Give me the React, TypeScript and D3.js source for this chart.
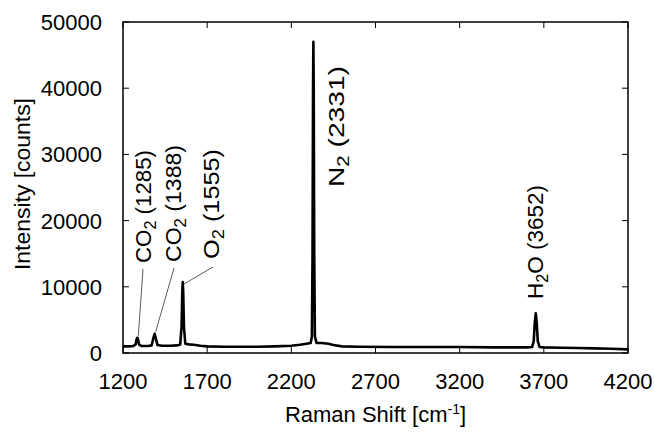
import React from "react";
import * as d3 from "d3";

const shifts = [
  1200, 1230, 1260, 1275, 1280, 1285, 1290, 1295, 1310, 1350, 1370, 1380, 1388, 1395, 1405, 1430, 1480,
  1520, 1540, 1548, 1552, 1555, 1558, 1562, 1570, 1590, 1620, 1660, 1700, 1800, 1900, 2000, 2100, 2200,
  2250, 2290, 2315, 2322, 2326, 2329, 2331, 2333, 2336, 2340, 2350, 2380, 2420, 2450, 2500, 2600, 2800,
  3000, 3200, 3400, 3600, 3630, 3640, 3646, 3652, 3658, 3664, 3675, 3700, 3800, 3900, 4000, 4100, 4200,
];
const intensities = [
  1000, 1000, 1050, 1300, 2000, 2300, 2000, 1300, 1050, 1050, 1150, 2200, 2900, 2200, 1200, 1100, 1100,
  1150, 1300, 4000, 9000, 10700, 9000, 4000, 1400, 1300, 1250, 1100, 1000, 950, 950, 950, 1000, 1100,
  1250, 1400, 1500, 2500, 15000, 40000, 47000, 40000, 15000, 2500, 1500, 1500, 1400, 1200, 1000, 950, 900,
  900, 900, 850, 850, 900, 1800, 4500, 6000, 4500, 1800, 900, 850, 800, 750, 700, 650, 550,
];
const xTicks = [1200, 1700, 2200, 2700, 3200, 3700, 4200];
const yTicks = [0, 10000, 20000, 30000, 40000, 50000];

// annotations: molecule main, subscript, suffix, peak shift, peak value
const annMain = ["CO", "CO", "O", "N", "H"];
const annSub = ["2", "2", "2", "2", "2"];
const annTail = [" (1285)", " (1388)", " (1555)", " (2331)", "O (3652)"];
const annPeak = [1285, 1388, 1555, 2331, 3652];
const annPeakVal = [2300, 2900, 10700, 47000, 6000];

const W = 654;
const H = 433;
const L = 123, R = 628, T = 22, B = 353;

export default function App() {
  const x = d3.scaleLinear().domain([1200, 4200]).range([L, R]);
  const y = d3.scaleLinear().domain([0, 50000]).range([B, T]);
  const data = shifts.map((s, i) => [s, intensities[i]] as [number, number]);
  const line = d3.line<[number, number]>().x((d) => x(d[0])).y((d) => y(d[1]));
  const font = "'Liberation Sans', Arial, sans-serif";
  const fs = 22;

  // label placement (baseline x, start y, length)
  const labelPos: [number, number, number][] = [
    [151, 263, 113],
    [181, 262, 117],
    [219, 259, 110],
    [344, 187, 121],
    [543, 299, 114],
  ];
  const leaders: ([number, number, number] | null)[] = [
    [143, 269, 6],
    [174, 268, 6],
    [213, 267, 2],
    null,
    null,
  ];

  return (
    <svg
      width={W}
      height={H}
      style={{ position: "absolute", left: 0, top: 0, background: "#fff" }}
      fontFamily={font}
    >
      <rect x={0} y={0} width={W} height={H} fill="#fff" />
      {/* ticks */}
      {xTicks.map((t) => (
        <g key={"xt" + t}>
          <line x1={x(t)} x2={x(t)} y1={B} y2={B - 6} stroke="#000" strokeWidth={1} />
          <line x1={x(t)} x2={x(t)} y1={T} y2={T + 6} stroke="#000" strokeWidth={1} />
          <text x={x(t)} y={389} fontSize={fs} textAnchor="middle" fill="#000">
            {t}
          </text>
        </g>
      ))}
      {yTicks.map((t) => (
        <g key={"yt" + t}>
          <line x1={L} x2={L + 6} y1={y(t)} y2={y(t)} stroke="#000" strokeWidth={1} />
          <line x1={R} x2={R - 6} y1={y(t)} y2={y(t)} stroke="#000" strokeWidth={1} />
          <text x={102} y={y(t) + 8} fontSize={fs} textAnchor="end" fill="#000">
            {t}
          </text>
        </g>
      ))}
      {/* spectrum */}
      <path d={line(data) || ""} fill="none" stroke="#000" strokeWidth={2.6} strokeLinejoin="round" />
      {/* frame */}
      <rect x={L} y={T} width={R - L} height={B - T} fill="none" stroke="#000" strokeWidth={1.5} />
      {/* leaders */}
      {leaders.map((l, i) =>
        l ? (
          <line
            key={"ld" + i}
            x1={l[0]}
            y1={l[1]}
            x2={x(annPeak[i]) + 1}
            y2={y(annPeakVal[i]) - l[2] + 4}
            stroke="#333"
            strokeWidth={0.8}
          />
        ) : null
      )}
      {/* annotations */}
      {annMain.map((m, i) => (
        <text
          key={"an" + i}
          transform={`translate(${labelPos[i][0]},${labelPos[i][1]}) rotate(-90)`}
          fontSize={fs}
          fill="#000"
          textLength={labelPos[i][2]}
          lengthAdjust="spacingAndGlyphs"
        >
          {m}
          <tspan fontSize={16} dy={5}>
            {annSub[i]}
          </tspan>
          <tspan dy={-5}>{annTail[i]}</tspan>
        </text>
      ))}
      {/* axis titles */}
      <text x={(L + R) / 2} y={422} fontSize={fs} textAnchor="middle" fill="#000">
        Raman Shift [cm
        <tspan fontSize={14} dy={-8}>
          -1
        </tspan>
        <tspan dy={8}>]</tspan>
      </text>
      <text
        transform={`translate(30,184) rotate(-90)`}
        fontSize={fs}
        textAnchor="middle"
        fill="#000"
        textLength={172}
        lengthAdjust="spacingAndGlyphs"
      >
        Intensity [counts]
      </text>
    </svg>
  );
}
